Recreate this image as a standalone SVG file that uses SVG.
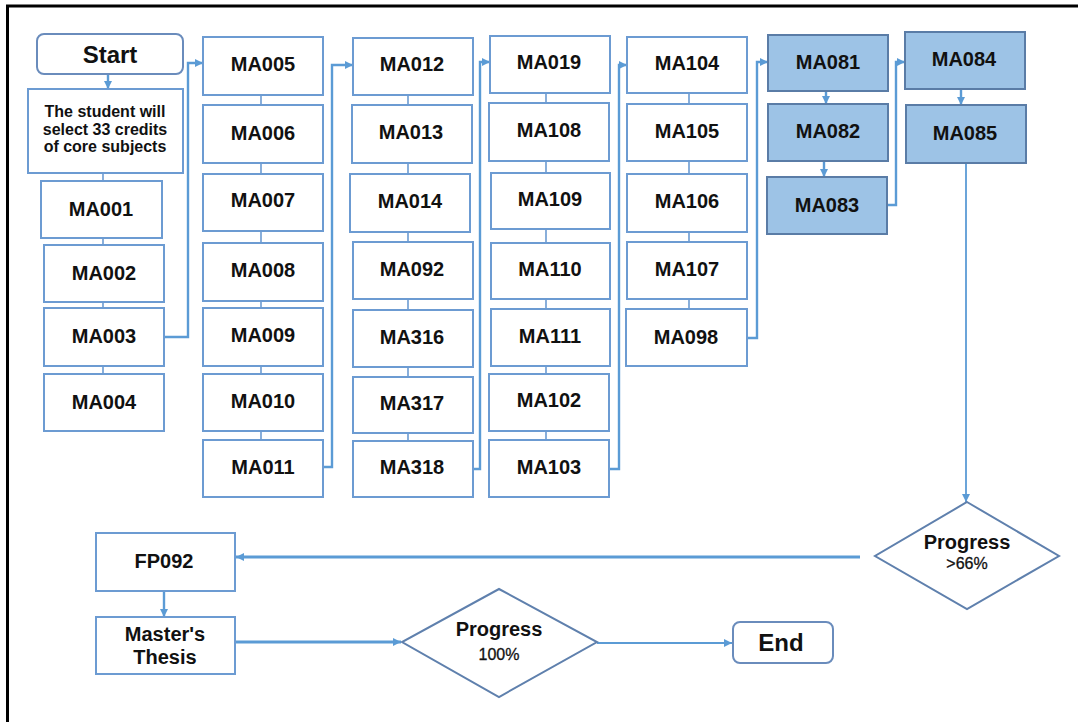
<svg xmlns="http://www.w3.org/2000/svg" width="1078" height="722" viewBox="0 0 1078 722">
<defs>
<marker id="arr" viewBox="0 0 10 10" refX="10" refY="5" markerWidth="8" markerHeight="8" markerUnits="userSpaceOnUse" orient="auto">
<path d="M0,0 L10,5 L0,10 z" fill="#5b9bd5"/>
</marker>
<style>
.b{fill:#fff;stroke:#6c9bd2;stroke-width:2}
.f{fill:#9dc3e6;stroke:#5a7ca6;stroke-width:2}
.r{fill:#fff;stroke:#6a8cbc;stroke-width:2}
.d{fill:#fff;stroke:#5f80ad;stroke-width:2}
text{font-family:"Liberation Sans",Arial,sans-serif;fill:#111;text-anchor:middle}
.t{font-size:20px;font-weight:bold}
.s{font-size:16px;font-weight:bold}
.big{font-size:24px;font-weight:bold}
.n{font-size:16px;stroke:#111;stroke-width:0.3}
.c{fill:none;stroke:#6c9bd2;stroke-width:1.6}
.l{fill:none;stroke:#5b9bd5;stroke-width:2.4}
.lt{fill:none;stroke:#5b9bd5;stroke-width:3.2}
</style>
</defs>
<rect width="1078" height="722" fill="#fff"/>
<g id="frame">
<path d="M7.5,722 V6 H1078" fill="none" stroke="#000" stroke-width="3"/>
</g>
<g id="connectors">
<path class="l" d="M108,74 V89" marker-end="url(#arr)"/>
<path class="c" d="M103,173 V181 M103,238 V245 M103,302 V308 M103,366 V374"/>
<path class="c" d="M261,95 V105 M261,163 V174 M261,231 V243 M261,301 V308 M261,366 V374 M261,431 V440"/>
<path class="c" d="M408,95 V105 M408,163 V174 M408,232 V242 M408,299 V310 M408,367 V377 M408,433 V441"/>
<path class="c" d="M546,93 V103 M546,161 V173 M546,229 V243 M546,299 V309 M546,366 V374 M546,431 V440"/>
<path class="c" d="M689,93 V104 M689,161 V174 M689,232 V242 M689,299 V309"/>
<path class="l" d="M164,337 H188 V63 H203" marker-end="url(#arr)"/>
<path class="l" d="M323,467 H332 V65 H353" marker-end="url(#arr)"/>
<path class="l" d="M473,469 H480 V62 H490" marker-end="url(#arr)"/>
<path class="l" d="M609,469 H619 V65 H627" marker-end="url(#arr)"/>
<path class="l" d="M747,338 H757 V62 H768" marker-end="url(#arr)"/>
<path class="l" d="M887,205 H896 V62 H905" marker-end="url(#arr)"/>
<path class="l" d="M826,91 V104" marker-end="url(#arr)"/>
<path class="l" d="M824,161 V177" marker-end="url(#arr)"/>
<path class="l" d="M961,89 V105" marker-end="url(#arr)"/>
<path class="l" style="stroke-width:1.8" d="M966,163 V502" marker-end="url(#arr)"/>
<path class="lt" d="M860,557 H236" marker-end="url(#arr)"/>
<path class="l" d="M164,591 V617" marker-end="url(#arr)"/>
<path class="lt" d="M235,642 H401" marker-end="url(#arr)"/>
<path class="l" style="stroke-width:2" d="M597,643 H732" marker-end="url(#arr)"/>
</g>
<g id="start"><rect class="r" x="37" y="34" width="146" height="40" rx="7"/><text class="big" x="110" y="63">Start</text></g>
<g id="intro"><rect class="b" x="28" y="89" width="155" height="84"/>
<text class="s" x="105" y="117">The student will</text>
<text class="s" x="105" y="134.5">select 33 credits</text>
<text class="s" x="105" y="152">of core subjects</text></g>
<g id="MA001"><rect class="b" x="41" y="181" width="121" height="57"/><text class="t" x="101" y="216">MA001</text></g>
<g id="MA002"><rect class="b" x="44" y="245" width="120" height="57"/><text class="t" x="104" y="280">MA002</text></g>
<g id="MA003"><rect class="b" x="44" y="308" width="120" height="58"/><text class="t" x="104" y="343">MA003</text></g>
<g id="MA004"><rect class="b" x="44" y="374" width="120" height="57"/><text class="t" x="104" y="409">MA004</text></g>

<g id="MA005"><rect class="b" x="203" y="37" width="120" height="58"/><text class="t" x="263" y="71">MA005</text></g>
<g id="MA006"><rect class="b" x="203" y="105" width="120" height="58"/><text class="t" x="263" y="140">MA006</text></g>
<g id="MA007"><rect class="b" x="203" y="174" width="120" height="57"/><text class="t" x="263" y="207">MA007</text></g>
<g id="MA008"><rect class="b" x="203" y="243" width="120" height="58"/><text class="t" x="263" y="277">MA008</text></g>
<g id="MA009"><rect class="b" x="203" y="308" width="120" height="58"/><text class="t" x="263" y="342">MA009</text></g>
<g id="MA010"><rect class="b" x="203" y="374" width="120" height="57"/><text class="t" x="263" y="408">MA010</text></g>
<g id="MA011"><rect class="b" x="203" y="440" width="120" height="57"/><text class="t" x="263" y="474">MA011</text></g>

<g id="MA012"><rect class="b" x="353" y="38" width="120" height="57"/><text class="t" x="412" y="71">MA012</text></g>
<g id="MA013"><rect class="b" x="352" y="105" width="120" height="58"/><text class="t" x="411" y="139">MA013</text></g>
<g id="MA014"><rect class="b" x="350" y="174" width="120" height="58"/><text class="t" x="410" y="208">MA014</text></g>
<g id="MA092"><rect class="b" x="353" y="242" width="120" height="57"/><text class="t" x="412" y="276">MA092</text></g>
<g id="MA316"><rect class="b" x="353" y="310" width="120" height="57"/><text class="t" x="412" y="344">MA316</text></g>
<g id="MA317"><rect class="b" x="353" y="377" width="120" height="56"/><text class="t" x="412" y="410">MA317</text></g>
<g id="MA318"><rect class="b" x="353" y="441" width="120" height="56"/><text class="t" x="412" y="474">MA318</text></g>

<g id="MA019"><rect class="b" x="490" y="36" width="120" height="57"/><text class="t" x="549" y="69">MA019</text></g>
<g id="MA108"><rect class="b" x="489" y="103" width="120" height="58"/><text class="t" x="549" y="137">MA108</text></g>
<g id="MA109"><rect class="b" x="491" y="173" width="119" height="56"/><text class="t" x="550" y="206">MA109</text></g>
<g id="MA110"><rect class="b" x="491" y="243" width="119" height="56"/><text class="t" x="550" y="276">MA110</text></g>
<g id="MA111"><rect class="b" x="491" y="309" width="119" height="57"/><text class="t" x="550" y="343">MA111</text></g>
<g id="MA102"><rect class="b" x="489" y="374" width="120" height="57"/><text class="t" x="549" y="407">MA102</text></g>
<g id="MA103"><rect class="b" x="489" y="440" width="120" height="57"/><text class="t" x="549" y="474">MA103</text></g>

<g id="MA104"><rect class="b" x="627" y="37" width="120" height="56"/><text class="t" x="687" y="70">MA104</text></g>
<g id="MA105"><rect class="b" x="627" y="104" width="120" height="57"/><text class="t" x="687" y="138">MA105</text></g>
<g id="MA106"><rect class="b" x="627" y="174" width="120" height="58"/><text class="t" x="687" y="208">MA106</text></g>
<g id="MA107"><rect class="b" x="627" y="242" width="120" height="57"/><text class="t" x="687" y="276">MA107</text></g>
<g id="MA098"><rect class="b" x="626" y="309" width="121" height="57"/><text class="t" x="686" y="344">MA098</text></g>

<g id="MA081"><rect class="f" x="768" y="35" width="120" height="56"/><text class="t" x="828" y="69">MA081</text></g>
<g id="MA082"><rect class="f" x="768" y="104" width="120" height="57"/><text class="t" x="828" y="138">MA082</text></g>
<g id="MA083"><rect class="f" x="767" y="177" width="120" height="57"/><text class="t" x="827" y="212">MA083</text></g>
<g id="MA084"><rect class="f" x="905" y="32" width="120" height="57"/><text class="t" x="964" y="66">MA084</text></g>
<g id="MA085"><rect class="f" x="906" y="105" width="120" height="58"/><text class="t" x="965" y="140">MA085</text></g>

<g id="progress66"><path class="d" d="M967,502 L1059,556 L967,609 L875,556 Z"/>
<text class="t" x="967" y="549">Progress</text><text class="n" x="967" y="569">&gt;66%</text></g>
<g id="FP092"><rect class="b" x="96" y="533" width="139" height="58"/><text class="t" x="164" y="568">FP092</text></g>
<g id="thesis"><rect class="b" x="96" y="617" width="139" height="57"/>
<text class="t" x="165" y="641">Master's</text><text class="t" x="165" y="664">Thesis</text></g>
<g id="progress100"><path class="d" d="M499,589 L597,642 L499,697 L402,642 Z"/>
<text class="t" x="499" y="636">Progress</text><text class="n" x="499" y="660">100%</text></g>
<g id="end"><rect class="r" x="733" y="622" width="100" height="41" rx="7"/><text class="big" x="781" y="651">End</text></g>
</svg>
